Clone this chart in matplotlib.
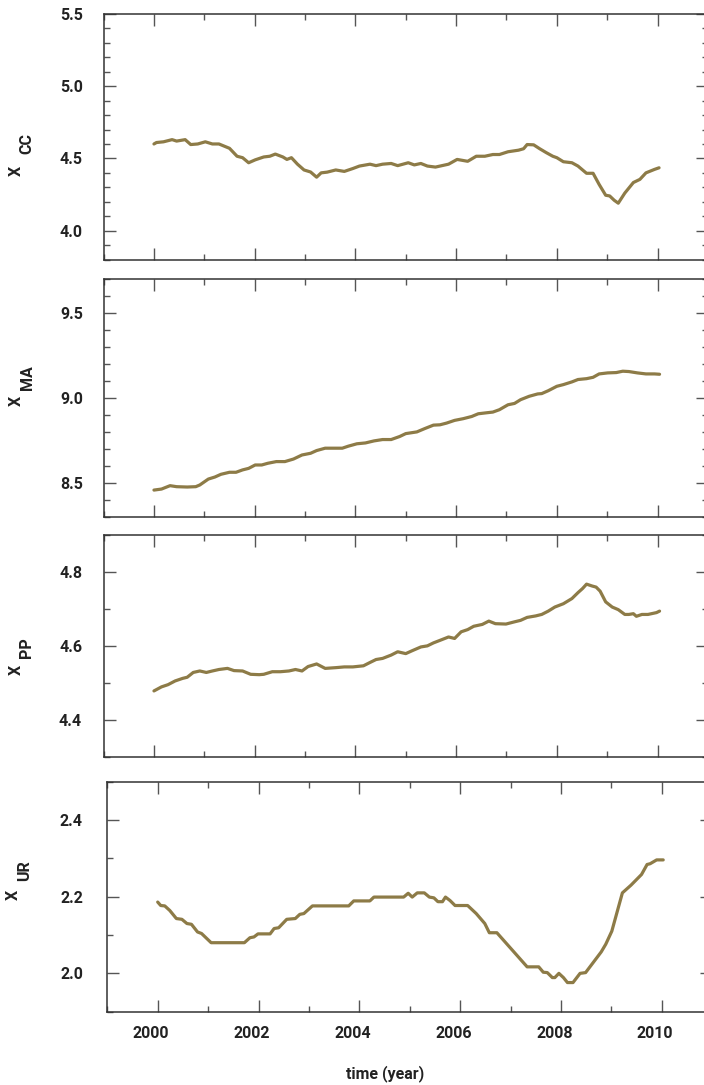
import matplotlib
matplotlib.use("Agg")
import matplotlib.pyplot as plt
from matplotlib.ticker import MultipleLocator, FixedLocator
from matplotlib.transforms import ScaledTranslation

# ---- data (decimal year, log level) ----
cc_t = [2000.00, 2000.05, 2000.19, 2000.36, 2000.45, 2000.62, 2000.73, 2000.87,
        2001.02, 2001.16, 2001.29, 2001.50, 2001.65, 2001.76, 2001.88, 2002.01,
        2002.18, 2002.30, 2002.41, 2002.56, 2002.64, 2002.73, 2002.85, 2002.98,
        2003.11, 2003.23, 2003.32, 2003.44, 2003.61, 2003.78, 2003.95, 2004.08,
        2004.29, 2004.41, 2004.54, 2004.71, 2004.84, 2005.05, 2005.17, 2005.30,
        2005.43, 2005.59, 2005.85, 2006.02, 2006.23, 2006.40, 2006.57, 2006.73,
        2006.86, 2007.03, 2007.24, 2007.34, 2007.41, 2007.54, 2007.66, 2007.79,
        2007.92, 2008.00, 2008.13, 2008.30, 2008.42, 2008.59, 2008.72, 2008.84,
        2008.97, 2009.05, 2009.14, 2009.22, 2009.35, 2009.52, 2009.65, 2009.77,
        2009.94, 2010.03]
cc_v = [4.600, 4.610, 4.615, 4.630, 4.620, 4.630, 4.596, 4.600,
        4.615, 4.600, 4.600, 4.570, 4.515, 4.505, 4.470, 4.490,
        4.510, 4.515, 4.530, 4.510, 4.493, 4.505, 4.460, 4.420,
        4.406, 4.370, 4.400, 4.405, 4.420, 4.410, 4.430, 4.447,
        4.460, 4.450, 4.460, 4.465, 4.450, 4.470, 4.455, 4.465,
        4.447, 4.440, 4.460, 4.493, 4.480, 4.515, 4.515, 4.527,
        4.527, 4.546, 4.557, 4.567, 4.596, 4.594, 4.567, 4.540,
        4.515, 4.505, 4.477, 4.470, 4.447, 4.397, 4.397, 4.320,
        4.245, 4.240, 4.210, 4.190, 4.260, 4.333, 4.355, 4.400,
        4.424, 4.435]

ma_t = [2000.00, 2000.15, 2000.32, 2000.45, 2000.66, 2000.83, 2000.91, 2001.08,
        2001.21, 2001.33, 2001.50, 2001.63, 2001.76, 2001.88, 2002.01, 2002.14,
        2002.26, 2002.43, 2002.60, 2002.77, 2002.94, 2003.11, 2003.23, 2003.40,
        2003.61, 2003.74, 2003.86, 2004.03, 2004.20, 2004.37, 2004.54, 2004.71,
        2004.88, 2005.00, 2005.22, 2005.38, 2005.55, 2005.68, 2005.81, 2005.97,
        2006.14, 2006.31, 2006.44, 2006.61, 2006.73, 2006.86, 2007.03, 2007.16,
        2007.28, 2007.45, 2007.62, 2007.70, 2007.83, 2008.00, 2008.13, 2008.30,
        2008.42, 2008.59, 2008.72, 2008.84, 2009.01, 2009.18, 2009.31, 2009.43,
        2009.60, 2009.77, 2009.94, 2010.04]
ma_v = [8.457, 8.463, 8.483, 8.477, 8.475, 8.477, 8.487, 8.522,
        8.534, 8.550, 8.562, 8.562, 8.576, 8.585, 8.605, 8.605,
        8.615, 8.625, 8.625, 8.640, 8.664, 8.674, 8.690, 8.704,
        8.704, 8.704, 8.716, 8.730, 8.735, 8.747, 8.755, 8.755,
        8.773, 8.790, 8.800, 8.820, 8.840, 8.842, 8.852, 8.868,
        8.878, 8.891, 8.907, 8.913, 8.917, 8.931, 8.960, 8.968,
        8.990, 9.010, 9.024, 9.026, 9.043, 9.069, 9.079, 9.095,
        9.109, 9.114, 9.122, 9.142, 9.148, 9.150, 9.158, 9.156,
        9.148, 9.142, 9.142, 9.140]

pp_t = [2000.00, 2000.15, 2000.28, 2000.42, 2000.57, 2000.66, 2000.78, 2000.91,
        2001.04, 2001.16, 2001.29, 2001.46, 2001.59, 2001.76, 2001.92, 2002.09,
        2002.18, 2002.35, 2002.51, 2002.68, 2002.81, 2002.94, 2003.06, 2003.23,
        2003.40, 2003.61, 2003.78, 2003.95, 2004.16, 2004.29, 2004.41, 2004.54,
        2004.71, 2004.84, 2005.00, 2005.13, 2005.30, 2005.43, 2005.55, 2005.72,
        2005.85, 2005.97, 2006.10, 2006.23, 2006.35, 2006.52, 2006.65, 2006.78,
        2006.99, 2007.16, 2007.28, 2007.41, 2007.58, 2007.70, 2007.83, 2007.96,
        2008.13, 2008.30, 2008.42, 2008.51, 2008.59, 2008.70, 2008.78, 2008.86,
        2008.97, 2009.10, 2009.22, 2009.35, 2009.43, 2009.52, 2009.58, 2009.69,
        2009.81, 2009.98, 2010.04]
pp_v = [4.478, 4.489, 4.495, 4.505, 4.512, 4.515, 4.528, 4.532,
        4.528, 4.532, 4.536, 4.539, 4.533, 4.532, 4.523, 4.522,
        4.523, 4.530, 4.530, 4.532, 4.536, 4.532, 4.544, 4.551,
        4.539, 4.541, 4.543, 4.543, 4.546, 4.555, 4.563, 4.566,
        4.575, 4.584, 4.579, 4.587, 4.597, 4.600, 4.608, 4.617,
        4.624, 4.620, 4.638, 4.644, 4.653, 4.658, 4.667, 4.660,
        4.659, 4.665, 4.669, 4.677, 4.681, 4.685, 4.694, 4.705,
        4.714, 4.728, 4.744, 4.755, 4.767, 4.762, 4.759, 4.748,
        4.719, 4.705, 4.698, 4.685, 4.685, 4.687, 4.680, 4.685,
        4.685, 4.690, 4.694]

ur_t = [2000.00, 2000.06, 2000.14, 2000.24, 2000.37, 2000.48, 2000.58, 2000.67,
        2000.79, 2000.87, 2001.06, 2001.72, 2001.83, 2001.91, 2001.99, 2002.23,
        2002.31, 2002.40, 2002.56, 2002.73, 2002.82, 2002.90, 2003.07, 2003.79,
        2003.89, 2004.21, 2004.29, 2004.88, 2004.97, 2005.05, 2005.15, 2005.29,
        2005.39, 2005.48, 2005.56, 2005.65, 2005.71, 2005.80, 2005.90, 2006.15,
        2006.32, 2006.49, 2006.58, 2006.73, 2007.33, 2007.56, 2007.65, 2007.73,
        2007.83, 2007.88, 2007.96, 2008.05, 2008.13, 2008.24, 2008.38, 2008.49,
        2008.80, 2008.89, 2009.01, 2009.22, 2009.39, 2009.60, 2009.71, 2009.77,
        2009.90, 2010.03]
ur_v = [2.186, 2.177, 2.176, 2.164, 2.143, 2.141, 2.130, 2.128,
        2.108, 2.104, 2.080, 2.080, 2.093, 2.095, 2.103, 2.103,
        2.117, 2.119, 2.141, 2.143, 2.154, 2.156, 2.176, 2.176,
        2.189, 2.189, 2.199, 2.199, 2.209, 2.199, 2.210, 2.210,
        2.199, 2.197, 2.187, 2.187, 2.199, 2.190, 2.177, 2.177,
        2.156, 2.130, 2.106, 2.106, 2.017, 2.017, 2.003, 2.002,
        1.989, 1.989, 2.000, 1.989, 1.976, 1.976, 2.000, 2.002,
        2.056, 2.076, 2.110, 2.210, 2.230, 2.258, 2.284, 2.286,
        2.296, 2.296]

series_names = ["CC", "MA", "PP", "UR"]
x_label = "time (year)"
year_ticks = [2000, 2002, 2004, 2006, 2008, 2010]

# ---- style ----
W, H = 704, 1085
LINE = "#8d7b47"
INK = "#222222"
SPINE = "#333333"
TICK = "#555555"
FONT = ["Roboto", "DejaVu Sans"]
TICK_FS = 11.5
LABEL_FS = 11.5
plt.rcParams["font.family"] = FONT

fig = plt.figure(figsize=(W / 100, H / 100), dpi=100)


def axes_px(left, top, right, bottom):
    return fig.add_axes([left / W, 1 - bottom / H, (right - left) / W, (bottom - top) / H])


panels = [
    # (t, v, ylim, major, minor, box px, ytick pad pt, X centre px, sub centre px)
    (cc_t, cc_v, (3.8, 5.5), 0.5, 0.1, (103.6, 14.0, 707.9, 259.5), 15.0, (16, 171), (27, 144)),
    (ma_t, ma_v, (8.3, 9.7), 0.5, 0.1, (103.6, 279.3, 707.9, 516.7), 15.0, (16, 401), (27.5, 378)),
    (pp_t, pp_v, (4.3, 4.9), 0.2, 0.1, (103.6, 535.0, 707.9, 756.7), 15.5, (16, 669.5), (27, 648)),
    (ur_t, ur_v, (1.9, 2.5), 0.2, 0.1, (107.3, 781.7, 712.1, 1011.7), 17.5, (13.7, 894.5), (24.5, 870.5)),
]

axes = []
for i, (t, v, ylim, major, minor, box, ypad, xpos, spos) in enumerate(panels):
    ax = axes_px(*box)
    ax.plot(t, v, color=LINE, lw=2.3, solid_joinstyle="round", solid_capstyle="round")
    ax.set_xlim(1999, 2011)
    ax.set_ylim(*ylim)
    ax.yaxis.set_major_locator(MultipleLocator(major))
    ax.yaxis.set_minor_locator(MultipleLocator(minor))
    ax.xaxis.set_major_locator(FixedLocator(year_ticks))
    ax.xaxis.set_minor_locator(MultipleLocator(1))
    ax.yaxis.set_major_formatter(plt.FormatStrFormatter("%.1f"))

    for s in ax.spines.values():
        s.set_color(SPINE)
        s.set_linewidth(1.1)

    ax.tick_params(which="both", direction="in", top=True, right=True, color=TICK, width=1.0)
    ax.tick_params(which="major", length=8.6)
    ax.tick_params(which="minor", length=4.6)
    ax.tick_params(axis="y", which="major", pad=ypad, labelsize=TICK_FS, labelcolor=INK)
    last = i == len(panels) - 1
    ax.tick_params(axis="x", which="major", pad=10.0, labelsize=TICK_FS, labelcolor=INK,
                   labelbottom=last)
    for lab in ax.get_yticklabels() + ax.get_xticklabels():
        lab.set_fontweight("bold")
    if last:
        shift = ScaledTranslation(-6.5 / 100, 0, fig.dpi_scale_trans)
        for lab in ax.get_xticklabels():
            lab.set_transform(lab.get_transform() + shift)

    # variable label: "X" with a lowered subscript, rotated
    fig.text(xpos[0] / W, 1 - xpos[1] / H, "X", rotation=90, ha="center", va="center",
             fontsize=LABEL_FS, fontweight="bold", color=INK)
    fig.text(spos[0] / W, 1 - spos[1] / H, series_names[i], rotation=90, ha="center",
             va="center", fontsize=LABEL_FS, fontweight="bold", color=INK)
    axes.append(ax)

fig.text(385 / W, 1 - 1074 / H, x_label, ha="center", va="center", fontsize=TICK_FS,
         fontweight="bold", color=INK)

fig.savefig("out.png", dpi=100)
